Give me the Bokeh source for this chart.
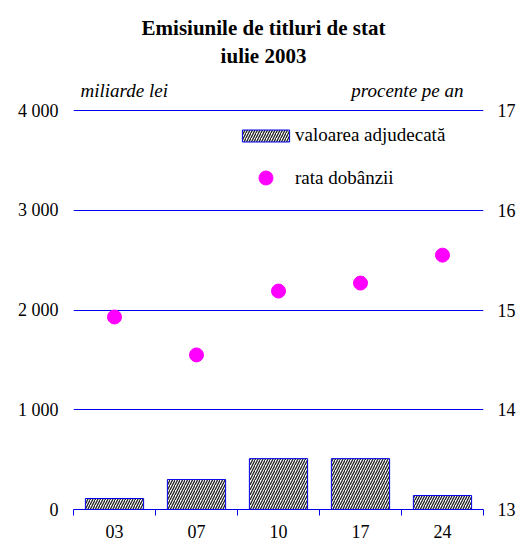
import numpy as np
from bokeh.plotting import figure
from bokeh.models import Range1d, LinearAxis, FixedTicker, Legend, LegendItem, Label
from bokeh.embed import file_html
from bokeh.resources import INLINE

# ---- data ----
categories = ["03", "07", "10", "17", "24"]
valoarea = [110, 300, 510, 510, 140]          # miliarde lei
rata = [14.93, 14.55, 15.19, 15.27, 15.55]     # procente pe an
left_ticks = [0, 1000, 2000, 3000, 4000]
left_labels = ["0", "1 000", "2 000", "3 000", "4 000"]
right_ticks = [13, 14, 15, 16, 17]
right_labels = ["13", "14", "15", "16", "17"]
title_lines = ["Emisiunile de titluri de stat", "iulie 2003"]
left_unit = "miliarde lei"
right_unit = "procente pe an"
legend_bar = "valoarea adjudecată"
legend_dot = "rata dobânzii"

FONT = "Liberation Serif"
BLUE = "#0000EE"
TOP = 5103   # headroom above the 4 000 line for titles and unit labels

xs = list(np.arange(1, len(categories) + 1))
bounds = [v + 0.5 for v in range(0, len(categories) + 1)]
rate_end = right_ticks[0] + (TOP - left_ticks[0]) * (right_ticks[-1] - right_ticks[0]) / (left_ticks[-1] - left_ticks[0])

p = figure(frame_width=410, frame_height=509,
           x_range=Range1d(0.5, len(categories) + 0.5), y_range=Range1d(left_ticks[0], TOP),
           output_backend="svg", toolbar_location=None,
           min_border_left=73, min_border_right=36, min_border_top=0, min_border_bottom=31)
p.outline_line_color = None
p.background_fill_color = "white"
p.extra_y_ranges = {"rate": Range1d(right_ticks[0], rate_end)}

# grid
p.xgrid.visible = False
p.ygrid.ticker = FixedTicker(ticks=left_ticks)
p.ygrid.grid_line_color = BLUE
p.ygrid.grid_line_width = 1

# left axis
ya = p.yaxis[0]
ya.ticker = FixedTicker(ticks=left_ticks)
ya.major_label_overrides = {t: l for t, l in zip(left_ticks, left_labels)}
ya.axis_line_color = None
ya.major_tick_line_color = None
ya.major_tick_out = 0
ya.major_tick_in = 0
ya.minor_tick_line_color = None
ya.major_label_standoff = 15
ya.major_label_text_font = FONT
ya.major_label_text_font_size = "18px"
ya.major_label_text_color = "black"

# right axis
ra = LinearAxis(y_range_name="rate", ticker=FixedTicker(ticks=right_ticks))
ra.major_label_overrides = {t: l for t, l in zip(right_ticks, right_labels)}
ra.axis_line_color = None
ra.major_tick_line_color = None
ra.major_tick_out = 0
ra.major_tick_in = 0
ra.minor_tick_line_color = None
ra.major_label_standoff = 14
ra.major_label_text_font = FONT
ra.major_label_text_font_size = "18px"
ra.major_label_text_color = "black"
p.add_layout(ra, "right")

# bottom axis
xa = p.xaxis[0]
xa.ticker = FixedTicker(ticks=xs, minor_ticks=bounds)
xa.major_label_overrides = {int(x): c for x, c in zip(xs, categories)}
xa.axis_line_color = BLUE
xa.major_tick_line_color = None
xa.major_tick_out = 0
xa.major_tick_in = 0
xa.minor_tick_line_color = BLUE
xa.minor_tick_out = 6
xa.minor_tick_in = 0
xa.major_label_standoff = 9
xa.major_label_text_font = FONT
xa.major_label_text_font_size = "18px"
xa.major_label_text_color = "black"

# glyphs
bars = p.vbar(x=xs, top=valoarea, width=0.71, bottom=0,
              fill_color="white", line_color=BLUE, line_width=1,
              hatch_pattern="/", hatch_color="#222222", hatch_scale=5, hatch_weight=1.3)
dots = p.scatter(x=xs, y=rata, y_range_name="rate", size=14,
                 fill_color="#FF00FF", line_color="#FF00FF")

# unit labels
p.add_layout(Label(x=0.5, y=left_ticks[-1], x_offset=7, y_offset=10, text=left_unit,
                   text_font=FONT, text_font_size="19px", text_font_style="italic",
                   text_color="black", text_baseline="bottom", text_align="left"))
p.add_layout(Label(x=len(categories) + 0.5, y=left_ticks[-1], x_offset=-20, y_offset=10, text=right_unit,
                   text_font=FONT, text_font_size="19px", text_font_style="italic",
                   text_color="black", text_baseline="bottom", text_align="right"))

# legends
def mk_legend(item, loc, gh):
    lg = Legend(items=[item], location=loc, glyph_width=59, glyph_height=gh,
                label_text_font=FONT, label_text_font_size="19px", label_text_color="black",
                label_standoff=0, border_line_color=None, background_fill_alpha=0,
                padding=0, margin=0, spacing=0)
    p.add_layout(lg, "center")

mk_legend(LegendItem(label=legend_bar, renderers=[bars]), (163, 363), 15)
mk_legend(LegendItem(label=legend_dot, renderers=[dots]), (163, 314), 35)

# titles
xmid = (len(categories) + 1) / 2
for txt, off in zip(title_lines, [83, 55]):
    p.add_layout(Label(x=xmid, y=left_ticks[-1], x_offset=-15, y_offset=off, text=txt,
                       text_font=FONT, text_font_size="21px", text_font_style="bold",
                       text_color="black", text_align="center", text_baseline="middle"))

open("out.html", "w").write(file_html(p, INLINE))
